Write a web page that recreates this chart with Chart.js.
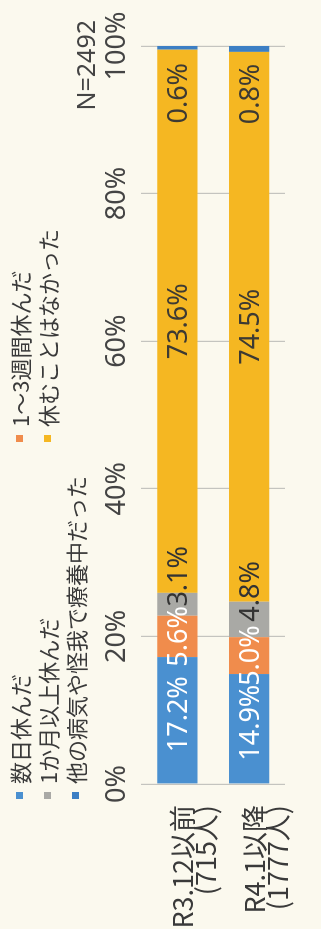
<!DOCTYPE html>
<html lang="ja">
<head>
<meta charset="utf-8">
<title>休んだ期間</title>
<script src="https://cdn.jsdelivr.net/npm/chart.js@4"></script>
<style>
  html, body { margin: 0; padding: 0; background: #fbf9ee; overflow: hidden; }
  /* the chart is laid out landscape and turned a quarter turn to read bottom-up */
  #wrap {
    position: absolute; left: 0; top: 0;
    width: 929px; height: 321px;
    transform-origin: 0 0;
    transform: translate(0, 929px) rotate(-90deg);
    background: #fbf9ee;
  }
  #chart { position: absolute; left: 0; top: 0; }
  .item {
    position: absolute; height: 28px; line-height: 28px;
    display: flex; align-items: center; white-space: nowrap;
    font: 22px "Noto Sans CJK JP"; color: #3a3a3a;
  }
  .item span { width: 7px; height: 7px; margin-right: 8px; flex: none; }
  #total {
    position: absolute; right: 20px; top: 68px;
    font: 25px "Noto Sans"; color: #444;
  }
</style>
</head>
<body>
<div id="wrap">
  <canvas id="chart" width="929" height="321"></canvas>
  <div id="total">N=2492</div>
</div>
<script>
const categories = [['R3.12以前', '(715人)'], ['R4.1以降', '(1777人)']];
const seriesNames = ['数日休んだ', '1～3週間休んだ', '1か月以上休んだ', '休むことはなかった', '他の病気や怪我で療養中だった'];
const fewDays = [17.2, 14.9];
const oneToThreeWeeks = [5.6, 5.0];
const overOneMonth = [3.1, 4.8];
const didNotRest = [73.6, 74.5];
const otherIllness = [0.6, 0.8];
const tickLabels = ['0%', '20%', '40%', '60%', '80%', '100%'];

const colors = ['#4a90d0', '#f08c4c', '#a9a9a5', '#f5b722', '#3c7fc4'];

// percent labels painted on top of each segment
const segmentLabels = {
  id: 'segmentLabels',
  afterDatasetsDraw(chart) {
    const ctx = chart.ctx;
    ctx.save();
    ctx.font = '27px "Noto Sans"';
    ctx.textAlign = 'center';
    ctx.textBaseline = 'middle';
    chart.data.datasets.forEach((ds, i) => {
      chart.getDatasetMeta(i).data.forEach((bar, j) => {
        let x = (bar.base + bar.x) / 2 + (ds.labelShift || 0);
        if (ds.labelFromEnd) x = bar.x - ds.labelFromEnd;
        ctx.fillStyle = ds.labelColor;
        ctx.fillText(ds.data[j].toFixed(1) + '%', x, bar.y + 2);
      });
    });
    ctx.restore();
  }
};

const seriesData = [fewDays, oneToThreeWeeks, overOneMonth, didNotRest, otherIllness];
const labelColors = ['#ffffff', '#ffffff', '#333333', '#3d3a33', '#3d3a33'];
const labelShifts = [6, 0, 28, 0, 0];

const datasets = seriesData.map((d, i) => ({
  label: seriesNames[i],
  data: d,
  backgroundColor: colors[i],
  borderWidth: 0,
  labelColor: labelColors[i],
  labelShift: labelShifts[i],
  labelFromEnd: i === 4 ? 48 : 0  // thin last segment: label sits inside the yellow
}));

new Chart(document.getElementById('chart'), {
  type: 'bar',
  data: { labels: categories, datasets: datasets },
  options: {
    indexAxis: 'y',
    responsive: false,
    animation: false,
    devicePixelRatio: 1,
    categoryPercentage: 1,
    barPercentage: 0.56,
    layout: { padding: { top: 93, right: 46, bottom: 0, left: 0 } },
    plugins: { legend: { display: false }, tooltip: { enabled: false } },
    scales: {
      x: {
        position: 'top',
        stacked: true,
        min: 0,
        max: 100,
        ticks: {
          stepSize: 20,
          padding: 8,
          color: '#444',
          font: { family: 'Noto Sans', size: 27 },
          callback: (v, i) => tickLabels[i]
        },
        grid: { drawTicks: false, color: '#c4c4bf', lineWidth: 1.2 },
        border: { display: false }
      },
      y: {
        stacked: true,
        ticks: {
          padding: 13,
          labelOffset: 17,
          color: '#3a3a3a',
          font: { family: 'Noto Sans CJK JP', size: 27, lineHeight: '23px' }
        },
        grid: { display: false },
        border: { display: false },
        afterFit(scale) { scale.width = 145; }
      }
    }
  },
  plugins: [segmentLabels]
});

// legend: two columns, filled row by row
const legendCols = [130, 487];
const legendRows = [19, 47, 75];
const wrap = document.getElementById('wrap');
seriesNames.forEach((name, i) => {
  const item = document.createElement('div');
  item.className = 'item';
  item.style.left = legendCols[i % 2] + 'px';
  item.style.top = (legendRows[Math.floor(i / 2)] - 14) + 'px';
  const box = document.createElement('span');
  box.style.background = colors[i];
  item.appendChild(box);
  item.appendChild(document.createTextNode(name));
  wrap.appendChild(item);
});
</script>
</body>
</html>
